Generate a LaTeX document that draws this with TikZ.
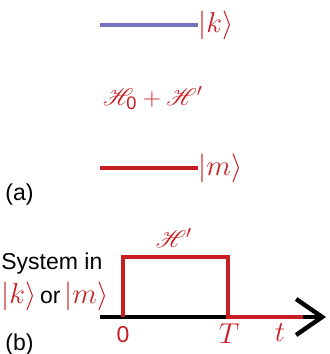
\documentclass[tikz,border=0pt]{standalone}
\usepackage{fontspec}
\setsansfont{Liberation Sans}
\usepackage{mathrsfs}
\usetikzlibrary{arrows.meta}
\definecolor{lvlred}{RGB}{200,30,35}
\definecolor{lvlblue}{RGB}{115,115,190}

\begin{document}
\begin{tikzpicture}[x=0.5pt, y=-0.5pt,
      level/.style={line width=2.3pt},
      ket/.style={text=lvlred, font=\fontsize{14.5}{16}\selectfont, inner sep=0pt, anchor=west},
      ham/.style={text=lvlred, font=\fontsize{13}{15}\selectfont, inner sep=0pt},
      tag/.style={font=\sffamily\fontsize{11.5}{13}\selectfont, inner sep=0pt, anchor=base west},
      pulse/.style={draw=lvlred, line width=2pt}]
    \useasboundingbox (0,0) rectangle (329,354);
    % (a) the two levels
    \coordinate (k0) at (100,25);
    \coordinate (k1) at (198,25);
    \coordinate (m0) at (100,168);
    \coordinate (m1) at (198,168);
    \draw[level, lvlblue] (k0) -- (k1);
    \draw[level, lvlred] (m0) -- (m1);
    \node[ket] (ketk) at (k1) {$|k\rangle$};
    \node[ket] (ketm) at (m1) {$|m\rangle$};
    \node[ham] (h0) at (153,98) {$\mathscr{H}_{\mathsf{0}}+\mathscr{H}'$};
    \node[tag] (a) at (5,200) {(a)};
    % (b) the pulse
    \coordinate (ax0) at (100,317);
    \coordinate (ax1) at (326,317);
    \coordinate (p0) at (123,317);
    \coordinate (p1) at (123,257);
    \coordinate (p2) at (228,257);
    \coordinate (p3) at (228,317);
    \coordinate (tip) at (303,317);
    \draw[line width=2.2pt, -{Straight Barb[length=13pt, width=18pt, line width=2.2pt]}] (ax0) -- (ax1);
    \draw[pulse] (p0) -- (p1) -- (p2) -- (p3) -- (tip);
    \node[ham, anchor=south] (hp) at (174,248) {$\mathscr{H}'$};
    \node[tag] (sys) at (1,269) {System in};
    \node[tag] (ko) at (1,303) {\textcolor{lvlred}{\fontsize{13.5}{15}\selectfont$|k\rangle$}\,or\,\textcolor{lvlred}{\fontsize{13.5}{15}\selectfont$|m\rangle$}};
    \node[tag, anchor=center, text=lvlred] (t0) at (123,335) {0};
    \node[ket, anchor=center] (tT) at (229,334) {$T$};
    \node[ket, anchor=center] (tt) at (280,333) {$t$};
    \node[tag] (b) at (5,350) {(b)};
  \end{tikzpicture}
\end{document}
